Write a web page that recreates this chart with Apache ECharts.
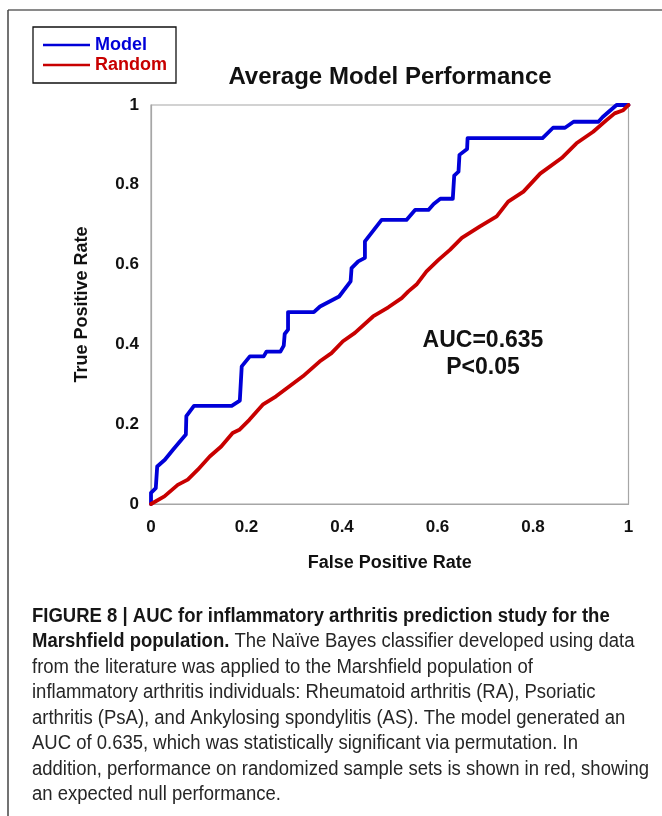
<!DOCTYPE html>
<html>
<head>
<meta charset="utf-8">
<style>
  html, body { margin: 0; padding: 0; background: #fff; }
  #chart { width: 662px; height: 816px; }
</style>
<script src="https://cdn.jsdelivr.net/npm/echarts@6/dist/echarts.min.js"></script>
</head>
<body>
<div id="chart"></div>
<script>
// ROC curve of the Naive Bayes model (false positive rate vs true positive rate)
const modelFPR = [0, 0, 0.01, 0.013, 0.029, 0.046, 0.073, 0.074, 0.09, 0.169,
  0.186, 0.19, 0.207, 0.236, 0.242, 0.271, 0.278, 0.28, 0.287, 0.287,
  0.341, 0.354, 0.394, 0.418, 0.42, 0.434, 0.448, 0.448, 0.483, 0.535,
  0.553, 0.581, 0.592, 0.606, 0.632, 0.635, 0.644, 0.646, 0.662, 0.663,
  0.82, 0.842, 0.867, 0.885, 0.937, 0.946, 0.975, 1];
const modelTPR = [0, 0.028, 0.04, 0.094, 0.111, 0.136, 0.174, 0.22, 0.246, 0.246,
  0.259, 0.345, 0.37, 0.37, 0.382, 0.382, 0.397, 0.426, 0.437, 0.481,
  0.481, 0.495, 0.52, 0.558, 0.591, 0.608, 0.617, 0.658, 0.712, 0.712,
  0.737, 0.737, 0.752, 0.765, 0.765, 0.823, 0.833, 0.875, 0.89, 0.917,
  0.917, 0.943, 0.943, 0.958, 0.958, 0.97, 1, 1];

// ROC curve on randomized sample sets (null performance)
const randomFPR = [0, 0.028, 0.056, 0.077, 0.098, 0.123, 0.147, 0.171, 0.185, 0.206,
  0.234, 0.262, 0.29, 0.318, 0.353, 0.378, 0.402, 0.427, 0.465, 0.497,
  0.525, 0.539, 0.556, 0.577, 0.602, 0.626, 0.651, 0.689, 0.724, 0.748,
  0.78, 0.815, 0.86, 0.891, 0.926, 0.954, 0.971, 0.989, 1];
const randomTPR = [0, 0.019, 0.048, 0.061, 0.086, 0.119, 0.144, 0.178, 0.186, 0.211,
  0.249, 0.27, 0.295, 0.32, 0.357, 0.378, 0.408, 0.429, 0.47, 0.493,
  0.516, 0.533, 0.55, 0.583, 0.612, 0.637, 0.667, 0.696, 0.721, 0.758,
  0.783, 0.828, 0.867, 0.904, 0.933, 0.962, 0.979, 0.987, 1];

const seriesNames = ['Model', 'Random'];
const tickValues = [0, 0.2, 0.4, 0.6, 0.8, 1];
const tickLabels = ['0', '0.2', '0.4', '0.6', '0.8', '1'];
const annotation = ['AUC=0.635', 'P<0.05'];

const captionLines = [
  '{b|FIGURE 8 | AUC for inflammatory arthritis prediction study for the}',
  '{b|Marshfield population.} The Naïve Bayes classifier developed using data',
  'from the literature was applied to the Marshfield population of',
  'inflammatory arthritis individuals: Rheumatoid arthritis (RA), Psoriatic',
  'arthritis (PsA), and Ankylosing spondylitis (AS). The model generated an',
  'AUC of 0.635, which was statistically significant via permutation. In',
  'addition, performance on randomized sample sets is shown in red, showing',
  'an expected null performance.'
];

const FONT = "'Liberation Sans', Arial, Helvetica, sans-serif";
const BLUE = '#0000d8';
const RED = '#c80000';

const zip = (xs, ys) => xs.map((x, i) => [x, ys[i]]);
const fmtTick = v => {
  const i = tickValues.findIndex(t => Math.abs(t - v) < 1e-9);
  return i >= 0 ? tickLabels[i] : '';
};

const chart = echarts.init(document.getElementById('chart'), null, { renderer: 'canvas' });

const graphics = [
  // figure frame
  { type: 'line', shape: { x1: 8, y1: 10, x2: 662, y2: 10 }, style: { stroke: '#8a8a8a', lineWidth: 2 } },
  { type: 'line', shape: { x1: 8, y1: 10, x2: 8, y2: 816 }, style: { stroke: '#444', lineWidth: 1.5 } },
  // chart title
  { type: 'text', x: 390, y: 77, style: { text: 'Average Model Performance', font: 'bold 24px ' + FONT, fill: '#111', align: 'center', verticalAlign: 'middle' } },
  // AUC annotation
  { type: 'text', x: 483, y: 341, style: { text: annotation[0], font: 'bold 23px ' + FONT, fill: '#111', align: 'center', verticalAlign: 'middle' } },
  { type: 'text', x: 483, y: 368, style: { text: annotation[1], font: 'bold 23px ' + FONT, fill: '#111', align: 'center', verticalAlign: 'middle' } }
];

// caption block under the chart
captionLines.forEach((line, i) => {
  graphics.push({
    type: 'text',
    x: 32,
    y: 616 + i * 25.5,
    scaleX: 0.925,
    style: {
      text: line,
      font: '20px ' + FONT,
      fill: '#262626',
      verticalAlign: 'middle',
      rich: { b: { fontWeight: 'bold', fontSize: 20, fontFamily: FONT, fill: '#161616' } }
    }
  });
});

chart.setOption({
  animation: false,
  backgroundColor: '#fff',
  grid: {
    left: 151, top: 105, width: 477.5, height: 399,
    show: true, borderColor: '#a6a6a6', borderWidth: 1.2, backgroundColor: 'transparent'
  },
  legend: {
    orient: 'vertical',
    left: 33, top: 27,
    padding: [8, 9, 8, 10],
    itemGap: 0,
    itemWidth: 47,
    itemHeight: 2.5,
    icon: 'rect',
    borderColor: '#111',
    borderWidth: 1.3,
    borderRadius: 0,
    backgroundColor: '#fff',
    textStyle: { fontSize: 18, fontWeight: 'bold', fontFamily: FONT, lineHeight: 20 },
    data: [
      { name: seriesNames[0], textStyle: { color: BLUE } },
      { name: seriesNames[1], textStyle: { color: RED } }
    ]
  },
  xAxis: {
    type: 'value', min: 0, max: 1, interval: 0.2,
    name: 'False Positive Rate', nameLocation: 'middle', nameGap: 50,
    nameTextStyle: { fontSize: 18, fontWeight: 'bold', fontFamily: FONT, color: '#111' },
    axisLine: { show: true, lineStyle: { color: '#a6a6a6', width: 1.2 } },
    axisTick: { show: false },
    splitLine: { show: false },
    axisLabel: { formatter: fmtTick, margin: 15, fontSize: 17, fontWeight: 'bold', fontFamily: FONT, color: '#111' }
  },
  yAxis: {
    type: 'value', min: 0, max: 1, interval: 0.2,
    name: 'True Positive Rate', nameLocation: 'middle', nameGap: 60,
    nameTextStyle: { fontSize: 18, fontWeight: 'bold', fontFamily: FONT, color: '#111' },
    axisLine: { show: true, lineStyle: { color: '#a6a6a6', width: 1.2 } },
    axisTick: { show: false },
    splitLine: { show: false },
    axisLabel: { formatter: fmtTick, margin: 12, fontSize: 17, fontWeight: 'bold', fontFamily: FONT, color: '#111' }
  },
  series: [
    {
      name: seriesNames[0], type: 'line', data: zip(modelFPR, modelTPR),
      showSymbol: false, symbol: 'none', color: BLUE,
      lineStyle: { color: BLUE, width: 3.8, join: 'round', cap: 'round' }
    },
    {
      name: seriesNames[1], type: 'line', data: zip(randomFPR, randomTPR),
      showSymbol: false, symbol: 'none', color: RED,
      lineStyle: { color: RED, width: 3.8, join: 'round', cap: 'round' }
    }
  ],
  graphic: graphics
});
</script>
</body>
</html>
